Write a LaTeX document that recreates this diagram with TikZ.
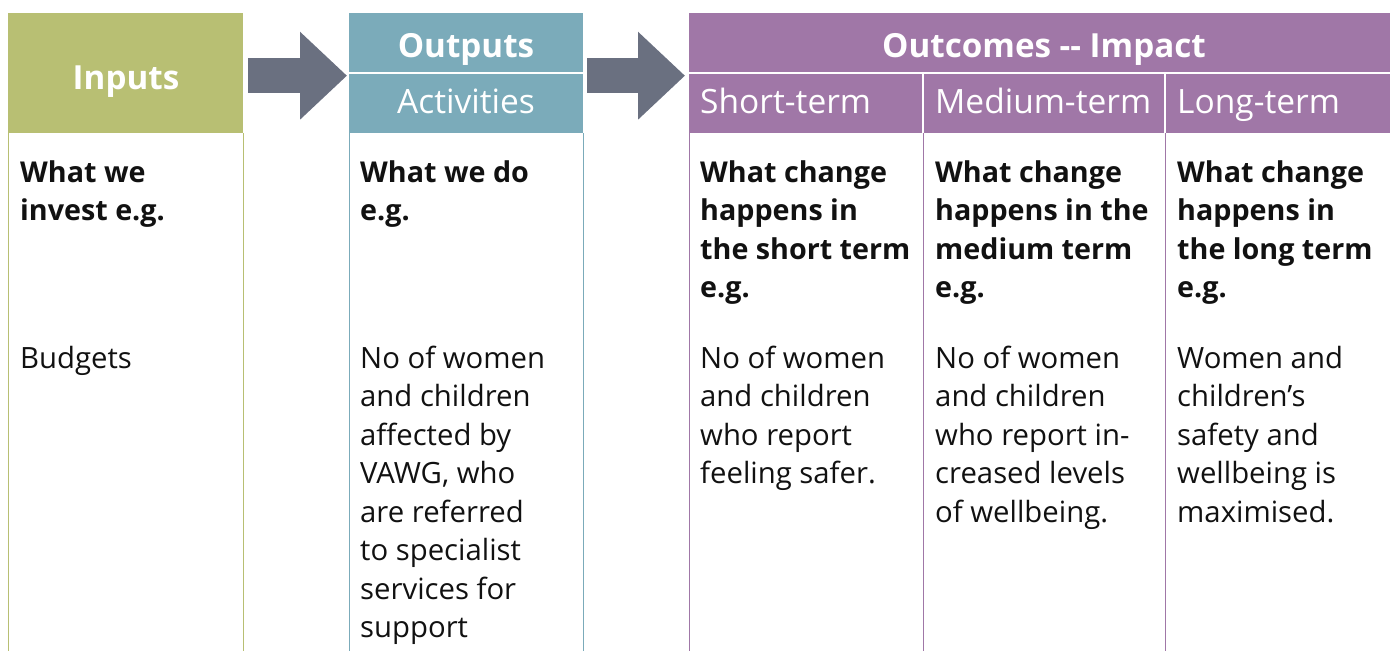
\documentclass[tikz,border=0pt]{standalone}
\usepackage{fontspec}
\setmainfont{Open Sans}
\usetikzlibrary{arrows.meta}
\definecolor{olivec}{HTML}{B8BF73}
\definecolor{tealc}{HTML}{7BABBA}
\definecolor{purplec}{HTML}{A077A7}
\definecolor{arrowc}{HTML}{6A7080}
\definecolor{textc}{HTML}{111111}
\begin{document}
\begin{tikzpicture}[x=1pt,y=-1pt,
  hdrbox/.style={draw=none,inner sep=0,minimum height=120pt,anchor=north west},
  hdrbold/.style={text=white,inner sep=0,font=\fontsize{33.2}{38}\selectfont\bfseries},
  hdrreg/.style={text=white,inner sep=0,font=\fontsize{33.5}{38}\selectfont},
  divider/.style={white,line width=1.5pt},
  bigarrow/.style={arrowc,line width=35pt,-{Triangle[length=47pt,width=85pt]}},
  coltext/.style={anchor=north west,inner sep=0,align=left,text=textc,font=\fontsize{29.3}{38.5}\selectfont},
  colbold/.style={coltext,font=\fontsize{28.7}{38.5}\selectfont\bfseries},
  colline/.style={line width=1pt}
]
\useasboundingbox (0,0) rectangle (1390,651);
% header boxes
\node[hdrbox,fill=olivec,minimum width=235pt] (inhdr) at (8,13) {};
\node[hdrbox,fill=tealc,minimum width=234pt] (outhdr) at (349,13) {};
\node[hdrbox,fill=purplec,minimum width=705pt] (ochdr) at (689,13) {};
% dividers
\draw[divider] (349,73) -- (583,73);
\draw[divider] (689,73) -- (1394,73);
\draw[divider] (923,73) -- (923,133);
\draw[divider] (1165,73) -- (1165,133);
% column lines
\draw[colline,olivec] (inhdr.south west) -- (inhdr.south west |- 0,651);
\draw[colline,olivec] (inhdr.south east) -- (inhdr.south east |- 0,651);
\draw[colline,tealc] (outhdr.south west) -- (outhdr.south west |- 0,651);
\draw[colline,tealc] (outhdr.south east) -- (outhdr.south east |- 0,651);
\draw[colline,purplec] (ochdr.south west) -- (ochdr.south west |- 0,651);
\draw[colline,purplec] (923,133) -- (923,651);
\draw[colline,purplec] (1165,133) -- (1165,651);
% arrows
\draw[bigarrow,shorten <=5pt,shorten >=2pt] ([yshift=-2.5pt]inhdr.east) -- ([yshift=-2.5pt]outhdr.west);
\draw[bigarrow,shorten <=4pt,shorten >=4pt] ([yshift=-2.5pt]outhdr.east) -- ([yshift=-2.5pt]ochdr.west);
% header texts
\node[hdrbold,anchor=base] (tin) at (126,89) {Inputs};
\node[hdrbold,anchor=base] (tout) at (466,57) {Outputs};
\node[hdrreg,anchor=base] (tact) at (466,113) {Activities};
\node[hdrbold,anchor=base] (toc) at (1044,57) {Outcomes {-}{-} Impact};
\node[hdrreg,anchor=base west] (tshort) at (700,113) {Short-term};
\node[hdrreg,anchor=base west] (tmed) at (935,113) {Medium-term};
\node[hdrreg,anchor=base west] (tlong) at (1177,113) {Long-term};
% column texts
\node[colbold] (q1) at (20,155) {\strut What we\\invest e.g.};
\node[coltext] (a1) at (20,341) {\strut Budgets};
\node[colbold] (q2) at (360,155) {\strut What we do\\e.g.};
\node[coltext] (a2) at (360,341) {\strut No of women\\and children\\affected by\\VAWG, who\\are referred\\to specialist\\services for\\support};
\node[colbold] (q3) at (700,155) {\strut What change\\happens in\\the short term\\e.g.};
\node[coltext] (a3) at (700,341) {\strut No of women\\and children\\who report\\feeling safer.};
\node[colbold] (q4) at (935,155) {\strut What change\\happens in the\\medium term\\e.g.};
\node[coltext] (a4) at (935,341) {\strut No of women\\and children\\who report in-\\creased levels\\of wellbeing.};
\node[colbold] (q5) at (1177,155) {\strut What change\\happens in\\the long term\\e.g.};
\node[coltext] (a5) at (1177,341) {\strut Women and\\children’s\\safety and\\wellbeing is\\maximised.};
\end{tikzpicture}
\end{document}
